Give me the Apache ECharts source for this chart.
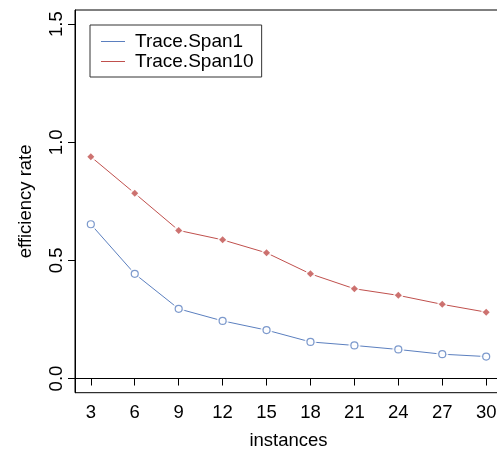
<!DOCTYPE html>
<html>
<head>
<meta charset="utf-8">
<script src="https://cdn.jsdelivr.net/npm/echarts@6/dist/echarts.min.js"></script>
<style>
  html, body { margin: 0; padding: 0; background: #fff; }
  #chart { width: 497px; height: 452px; }
</style>
</head>
<body>
<div id="chart"></div>
<script>
// Efficiency rate per number of instances, two trace spans
const instances = [3, 6, 9, 12, 15, 18, 21, 24, 27, 30];
const span1 = [0.653, 0.443, 0.295, 0.244, 0.205, 0.155, 0.140, 0.123, 0.103, 0.093];
const span10 = [0.939, 0.784, 0.627, 0.587, 0.532, 0.443, 0.380, 0.352, 0.314, 0.281];
const xTicks = [3, 6, 9, 12, 15, 18, 21, 24, 27, 30];
const yTicks = [0, 0.5, 1, 1.5];

const BLUE = '#5b7fbf';
const RED = '#c0504d';
const FONT = 'Liberation Sans, Arial, Helvetica, sans-serif';
const FS = 18.5;

const pairs = ys => instances.map((x, i) => [x, ys[i]]);

// Axis ranges padded 4% on each side, as in base R plots
const xMin = 3 - 0.04 * 27, xMax = 30 + 0.04 * 27;
const yMin = -0.04 * 1.5, yMax = 1.5 + 0.04 * 1.5;

const chart = echarts.init(document.getElementById('chart'), null, { renderer: 'canvas' });

chart.setOption({
  animation: false,
  backgroundColor: '#fff',
  textStyle: { fontFamily: FONT },
  grid: {
    left: 75, top: 10, right: -5, bottom: 59.3,
    containLabel: false, outerBoundsMode: 'none',
    show: true, borderColor: '#000', borderWidth: 1, backgroundColor: 'transparent'
  },
  legend: {
    orient: 'vertical',
    left: 90, top: 25,
    data: ['Trace.Span1', 'Trace.Span10'],
    icon: 'rect',
    itemWidth: 24, itemHeight: 1,
    itemGap: 1,
    padding: [7, 8, 6, 11],
    borderColor: '#333', borderWidth: 1,
    backgroundColor: '#fff',
    textStyle: { fontSize: 19, color: '#000', fontFamily: FONT, padding: [0, 0, 0, 5] }
  },
  xAxis: {
    type: 'value',
    min: xMin, max: xMax,
    name: 'instances',
    nameLocation: 'middle',
    nameGap: 39,
    nameTextStyle: { fontSize: FS, color: '#000', fontFamily: FONT },
    splitLine: { show: false },
    axisLine: { show: true, lineStyle: { color: '#000', width: 1 } },
    axisTick: { show: true, length: 7, customValues: xTicks, lineStyle: { color: '#000' } },
    axisLabel: { customValues: xTicks, margin: 11, fontSize: FS, color: '#000', fontFamily: FONT }
  },
  yAxis: {
    type: 'value',
    min: yMin, max: yMax,
    name: 'efficiency rate',
    nameLocation: 'middle',
    nameRotate: 90,
    nameGap: 40,
    nameTextStyle: { fontSize: FS, color: '#000', fontFamily: FONT },
    splitLine: { show: false },
    axisLine: { show: true, lineStyle: { color: '#000', width: 1 } },
    axisTick: { show: true, length: 7, customValues: yTicks, lineStyle: { color: '#000' } },
    axisLabel: {
      customValues: yTicks, rotate: 90, margin: 9,
      fontSize: FS, color: '#000', fontFamily: FONT,
      formatter: v => v.toFixed(1)
    }
  },
  series: [
    {
      name: 'Trace.Span1', type: 'line', data: pairs(span1),
      showSymbol: false, color: BLUE,
      lineStyle: { color: BLUE, width: 1 }, z: 2
    },
    {
      name: 'Trace.Span10', type: 'line', data: pairs(span10),
      showSymbol: false, color: RED,
      lineStyle: { color: RED, width: 1 }, z: 2
    },
    // White discs break the lines around each point ("both" style)
    {
      type: 'scatter', data: pairs(span1), symbol: 'circle', symbolSize: 12,
      itemStyle: { color: '#fff' }, silent: true, z: 3
    },
    {
      type: 'scatter', data: pairs(span10), symbol: 'circle', symbolSize: 10,
      itemStyle: { color: '#fff' }, silent: true, z: 3
    },
    // Point markers
    {
      type: 'scatter', data: pairs(span1), symbol: 'circle', symbolSize: 7,
      itemStyle: { color: '#fff', borderColor: BLUE, borderWidth: 1.2 }, silent: true, z: 4
    },
    {
      type: 'scatter', data: pairs(span10), symbol: 'diamond', symbolSize: 7,
      itemStyle: { color: RED }, silent: true, z: 4
    }
  ]
});
</script>
</body>
</html>
